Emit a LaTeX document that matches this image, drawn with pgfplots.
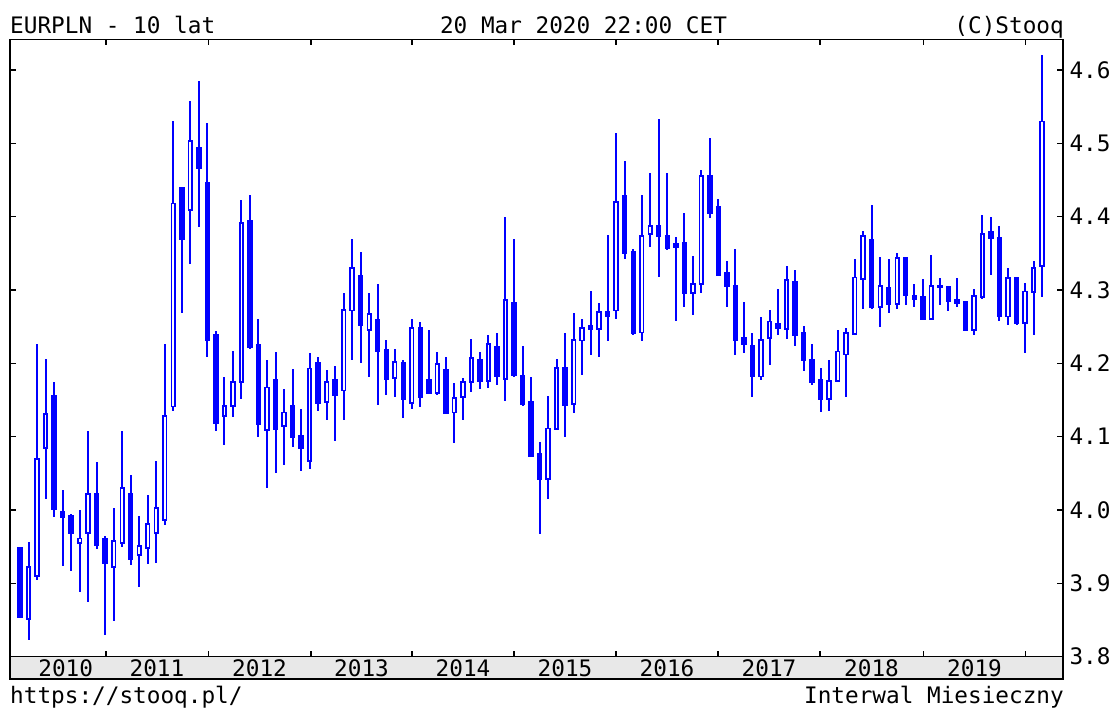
\documentclass[border=0pt]{standalone}
\usepackage{pgfplots}
\pgfplotsset{compat=1.18}
\usepackage{pgfplotstable}
\usepackage{fontspec}
\setmainfont{DejaVu Sans Mono}
\newcommand\tf{\fontsize{22.7pt}{27pt}\selectfont}
\definecolor{strip}{RGB}{232,232,232}
\definecolor{candle}{RGB}{0,0,255}

% miesieczne swiece EURPLN: i open high low close
\pgfplotstableread{
i o h l c
0 3.948 3.948 3.853 3.854
1 3.851 3.956 3.823 3.922
2 3.910 4.227 3.905 4.070
3 4.084 4.206 4.015 4.131
4 4.155 4.175 3.990 4.001
5 3.997 4.027 3.924 3.990
6 3.992 3.994 3.917 3.969
7 3.955 4.000 3.888 3.961
8 3.969 4.107 3.875 4.022
9 4.022 4.066 3.946 3.952
10 3.961 3.965 3.829 3.927
11 3.922 4.002 3.848 3.958
12 3.955 4.107 3.949 4.030
13 4.022 4.047 3.925 3.933
14 3.938 3.992 3.895 3.951
15 3.948 4.020 3.926 3.981
16 3.969 4.067 3.928 4.003
17 3.986 4.227 3.980 4.128
18 4.141 4.530 4.135 4.418
19 4.440 4.440 4.269 4.370
20 4.409 4.558 4.335 4.503
21 4.494 4.585 4.386 4.466
22 4.446 4.528 4.209 4.231
23 4.239 4.244 4.108 4.119
24 4.128 4.181 4.089 4.142
25 4.142 4.217 4.127 4.175
26 4.175 4.423 4.151 4.391
27 4.394 4.429 4.220 4.222
28 4.225 4.261 4.100 4.117
29 4.109 4.205 4.030 4.167
30 4.177 4.216 4.050 4.110
31 4.114 4.165 4.061 4.133
32 4.142 4.192 4.086 4.100
33 4.101 4.137 4.053 4.084
34 4.067 4.214 4.056 4.193
35 4.200 4.208 4.135 4.146
36 4.147 4.191 4.122 4.175
37 4.177 4.197 4.094 4.157
38 4.163 4.296 4.122 4.273
39 4.272 4.369 4.204 4.330
40 4.319 4.352 4.201 4.252
41 4.245 4.296 4.182 4.267
42 4.259 4.308 4.143 4.217
43 4.218 4.232 4.157 4.179
44 4.180 4.219 4.154 4.202
45 4.200 4.205 4.126 4.151
46 4.146 4.260 4.137 4.248
47 4.248 4.257 4.140 4.154
48 4.177 4.245 4.159 4.160
49 4.159 4.216 4.157 4.199
50 4.191 4.208 4.131 4.132
51 4.133 4.173 4.091 4.153
52 4.154 4.180 4.122 4.174
53 4.174 4.233 4.161 4.207
54 4.205 4.216 4.165 4.176
55 4.176 4.239 4.167 4.226
56 4.222 4.241 4.170 4.182
57 4.179 4.399 4.149 4.286
58 4.282 4.369 4.182 4.184
59 4.183 4.224 4.142 4.145
60 4.148 4.181 4.072 4.073
61 4.076 4.093 3.967 4.042
62 4.042 4.156 4.015 4.111
63 4.110 4.206 4.110 4.194
64 4.194 4.241 4.099 4.143
65 4.145 4.268 4.132 4.232
66 4.231 4.260 4.184 4.248
67 4.251 4.298 4.211 4.247
68 4.247 4.282 4.208 4.270
69 4.270 4.375 4.230 4.264
70 4.272 4.514 4.260 4.420
71 4.429 4.476 4.342 4.351
72 4.352 4.356 4.239 4.241
73 4.242 4.429 4.230 4.374
74 4.376 4.459 4.359 4.387
75 4.387 4.533 4.318 4.373
76 4.374 4.459 4.354 4.357
77 4.363 4.372 4.258 4.359
78 4.364 4.405 4.277 4.296
79 4.296 4.347 4.266 4.308
80 4.308 4.464 4.296 4.456
81 4.456 4.508 4.398 4.405
82 4.413 4.424 4.321 4.321
83 4.323 4.339 4.277 4.305
84 4.305 4.356 4.211 4.231
85 4.234 4.284 4.214 4.226
86 4.224 4.241 4.154 4.182
87 4.182 4.263 4.177 4.232
88 4.234 4.273 4.198 4.257
89 4.254 4.301 4.239 4.248
90 4.247 4.333 4.233 4.314
91 4.311 4.327 4.223 4.239
92 4.241 4.251 4.189 4.204
93 4.205 4.226 4.170 4.175
94 4.177 4.194 4.133 4.151
95 4.151 4.205 4.135 4.176
96 4.176 4.245 4.176 4.216
97 4.212 4.248 4.154 4.241
98 4.240 4.342 4.240 4.317
99 4.315 4.380 4.274 4.374
100 4.369 4.416 4.274 4.277
101 4.277 4.345 4.250 4.306
102 4.303 4.342 4.269 4.281
103 4.281 4.350 4.274 4.344
104 4.344 4.344 4.280 4.293
105 4.292 4.308 4.277 4.288
106 4.290 4.315 4.261 4.261
107 4.261 4.348 4.261 4.305
108 4.305 4.317 4.280 4.304
109 4.304 4.306 4.272 4.285
110 4.286 4.317 4.277 4.282
111 4.284 4.285 4.245 4.245
112 4.245 4.301 4.239 4.292
113 4.290 4.402 4.288 4.376
114 4.379 4.399 4.321 4.371
115 4.371 4.388 4.258 4.264
116 4.264 4.330 4.252 4.316
117 4.316 4.316 4.252 4.255
118 4.255 4.309 4.214 4.298
119 4.297 4.340 4.239 4.330
120 4.333 4.621 4.291 4.530
}\candles

\begin{document}
\begin{tikzpicture}[x=1pt,y=1pt]
\useasboundingbox (0,0) rectangle (1116,707);
\fill[white] (0,0) rectangle (1116,707);

\begin{axis}[
  at={(10pt,50.5pt)}, anchor=south west,
  scale only axis, width=1053pt, height=617pt,
  xmin=-1.174, xmax=122.46,
  ymin=3.8, ymax=4.6418,
  ybar stacked, bar width=3.6pt,
  axis line style={line width=1.6pt},
  tick align=inside, major tick length=6pt,
  tick style={black, line width=1.3pt},
  xtick={10.10,22.11,34.17,46.03,58.0,69.97,81.95,93.93,106.05,118.08},
  xticklabel={},
  xtick pos=both,
  ytick={3.8,3.9,4.0,4.1,4.2,4.3,4.4,4.5,4.6},
  ytick pos=both, yticklabel pos=right,
  yticklabel style={font=\tf, anchor=west, xshift=3pt},
  /pgf/number format/.cd, fixed, fixed zerofill, precision=1, assume math mode=true,
]
  % podstawa do min(open,close) + dolny knot
  \addplot[draw=none, fill=none,
    error bars/.cd, y dir=minus, y explicit, error mark=none,
    error bar style={candle, line width=2pt}]
    table[x=i, y expr={min(\thisrow{o},\thisrow{c})},
      y error minus expr={min(\thisrow{o},\thisrow{c})-\thisrow{l}}] {\candles};
  % swiece wzrostowe (puste)
  \addplot[draw=candle, fill=white, line width=1.8pt]
    table[x=i, y expr={max(\thisrow{c}-\thisrow{o},0)}] {\candles};
  % swiece spadkowe (pelne)
  \addplot[draw=candle, fill=candle, line width=1.8pt]
    table[x=i, y expr={max(\thisrow{o}-\thisrow{c},0)}] {\candles};
  % gorny knot od max(open,close)
  \addplot[draw=none, fill=none,
    error bars/.cd, y dir=plus, y explicit, error mark=none,
    error bar style={candle, line width=2pt}]
    table[x=i, y expr=0,
      y error plus expr={\thisrow{h}-max(\thisrow{o},\thisrow{c})}] {\candles};
\end{axis}

% pasek z latami
\draw[line width=1.6pt, fill=strip] (10,28) rectangle (1063,50.5);
\foreach \x/\yr in {65.7/2010,157/2011,259.5/2012,361.5/2013,463/2014,565/2015,667/2016,769/2017,871.5/2018,974.5/2019}
  \node[anchor=base, inner sep=0, font=\tf] at (\x,31) {\yr};

% naglowek i stopka
\node[anchor=base west, inner sep=0, font=\tf] at (10,673.7) {EURPLN - 10 lat};
\node[anchor=base, inner sep=0, font=\tf] at (583.5,673.7) {20 Mar 2020 22:00 CET};
\node[anchor=base east, inner sep=0, font=\tf] at (1064,673.7) {(C)Stooq};
\node[anchor=base west, inner sep=0, font=\tf] at (10,3.5) {https://stooq.pl/};
\node[anchor=base east, inner sep=0, font=\tf] at (1064,3.5) {Interwal Miesieczny};
\end{tikzpicture}
\end{document}
